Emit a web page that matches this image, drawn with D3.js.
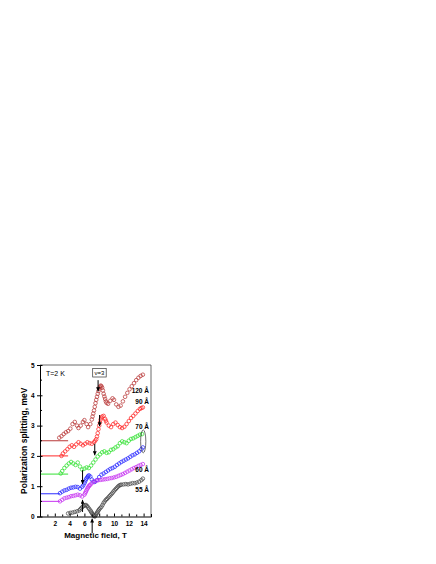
<!DOCTYPE html>
<html>
<head>
<meta charset="utf-8">
<script src="https://cdn.jsdelivr.net/npm/d3@7"></script>
<style>
  body { margin: 0; background: #fff; }
  svg text { font-family: "Liberation Sans", Arial, sans-serif; }
</style>
</head>
<body>
<svg id="chart" width="436" height="564"></svg>
<script>
// data
var field120 = [2.6, 2.9, 3.2, 3.5, 3.8, 4.1, 4.4, 4.7, 5.0, 5.2, 5.5, 5.8, 6.0, 6.3, 6.5, 6.8, 7.0, 7.1, 7.2, 7.3, 7.4, 7.5, 7.6, 7.7, 7.8, 7.9, 8.0, 8.1, 8.2, 8.3, 8.4, 8.5, 8.6, 8.7, 8.8, 8.9, 9.0, 9.2, 9.5, 9.8, 10.0, 10.3, 10.6, 10.9, 11.2, 11.5, 11.8, 12.1, 12.4, 12.7, 13.0, 13.3, 13.6, 13.9];
var split120 = [2.6, 2.65, 2.72, 2.78, 2.82, 2.9, 3.05, 3.12, 3.0, 2.92, 3.0, 3.12, 3.18, 3.05, 2.95, 3.05, 3.2, 3.3, 3.4, 3.5, 3.62, 3.74, 3.85, 3.95, 4.05, 4.14, 4.22, 4.28, 4.32, 4.3, 4.25, 4.16, 4.05, 3.96, 3.88, 3.8, 3.75, 3.72, 3.82, 3.9, 3.85, 3.7, 3.62, 3.66, 3.8, 3.95, 4.08, 4.2, 4.3, 4.4, 4.5, 4.58, 4.64, 4.68];

var field90 = [2.9, 3.1, 3.4, 3.7, 4.0, 4.3, 4.6, 4.9, 5.2, 5.5, 5.8, 6.1, 6.4, 6.7, 7.0, 7.3, 7.45, 7.6, 7.7, 7.8, 7.9, 8.0, 8.1, 8.2, 8.3, 8.4, 8.6, 8.8, 8.9, 9.0, 9.3, 9.6, 9.9, 10.2, 10.5, 10.8, 11.1, 11.4, 11.7, 12.0, 12.3, 12.6, 12.9, 13.2, 13.5, 13.7, 13.9];
var split90 = [2.0, 2.08, 2.15, 2.22, 2.3, 2.35, 2.3, 2.38, 2.45, 2.4, 2.35, 2.4, 2.45, 2.42, 2.4, 2.45, 2.5, 2.55, 2.64, 2.75, 2.88, 3.0, 3.1, 3.2, 3.26, 3.3, 3.32, 3.22, 3.16, 3.1, 3.0, 2.95, 3.05, 3.1, 3.02, 2.95, 2.92, 2.96, 3.05, 3.15, 3.25, 3.32, 3.4, 3.48, 3.55, 3.58, 3.6];

var field70 = [2.8, 3.0, 3.3, 3.6, 3.9, 4.2, 4.5, 4.8, 5.1, 5.4, 5.7, 6.0, 6.3, 6.6, 6.9, 7.2, 7.5, 7.8, 8.1, 8.4, 8.7, 9.0, 9.3, 9.6, 9.9, 10.2, 10.5, 10.8, 11.1, 11.4, 11.7, 12.0, 12.3, 12.6, 12.9, 13.2, 13.5, 13.8];
var split70 = [1.42, 1.5, 1.6, 1.68, 1.75, 1.8, 1.75, 1.7, 1.78, 1.65, 1.55, 1.58, 1.62, 1.6, 1.68, 1.78, 1.88, 1.98, 2.05, 2.12, 2.15, 2.1, 2.12, 2.2, 2.22, 2.28, 2.32, 2.42, 2.48, 2.45, 2.42, 2.5, 2.56, 2.58, 2.62, 2.66, 2.7, 2.72];

var field70b = [2.7, 3.0, 3.3, 3.6, 3.9, 4.2, 4.5, 4.8, 5.1, 5.4, 5.7, 5.85, 6.0, 6.1, 6.2, 6.3, 6.4, 6.5, 6.6, 6.8, 7.0, 7.2, 7.4, 7.7, 8.0, 8.3, 8.6, 8.9, 9.2, 9.5, 9.8, 10.1, 10.4, 10.7, 11.0, 11.3, 11.6, 11.9, 12.2, 12.5, 12.8, 13.1, 13.4, 13.7, 13.9];
var split70b = [0.77, 0.82, 0.86, 0.88, 0.92, 0.95, 0.96, 0.98, 0.97, 0.92, 0.98, 1.03, 1.1, 1.16, 1.22, 1.26, 1.3, 1.33, 1.36, 1.32, 1.22, 1.15, 1.14, 1.2, 1.3, 1.38, 1.42, 1.47, 1.52, 1.57, 1.6, 1.64, 1.7, 1.75, 1.8, 1.84, 1.88, 1.92, 1.97, 2.02, 2.05, 2.1, 2.15, 2.22, 2.28];

var field60 = [2.7, 3.0, 3.3, 3.6, 3.9, 4.2, 4.5, 4.8, 5.1, 5.4, 5.7, 6.0, 6.1, 6.2, 6.3, 6.4, 6.5, 6.6, 6.7, 6.8, 7.0, 7.3, 7.6, 7.9, 8.2, 8.5, 8.8, 9.1, 9.4, 9.7, 10.0, 10.3, 10.6, 10.9, 11.2, 11.5, 11.8, 12.1, 12.4, 12.7, 13.0, 13.3, 13.6, 13.9];
var split60 = [0.5, 0.55, 0.6, 0.62, 0.64, 0.67, 0.68, 0.7, 0.72, 0.7, 0.66, 0.72, 0.77, 0.82, 0.87, 0.92, 0.96, 1.0, 1.03, 1.05, 1.1, 1.15, 1.18, 1.2, 1.21, 1.22, 1.23, 1.24, 1.26, 1.27, 1.29, 1.31, 1.34, 1.37, 1.4, 1.44, 1.48, 1.52, 1.56, 1.6, 1.63, 1.67, 1.7, 1.73];

var field55 = [3.8, 4.1, 4.4, 4.7, 5.0, 5.3, 5.45, 5.6, 5.75, 5.9, 6.05, 6.2, 6.35, 6.5, 6.65, 6.8, 6.9, 7.0, 7.1, 7.2, 7.3, 7.4, 7.5, 7.6, 7.7, 7.8, 7.9, 8.0, 8.15, 8.3, 8.45, 8.6, 8.75, 8.9, 9.05, 9.2, 9.35, 9.5, 9.65, 9.8, 9.95, 10.1, 10.25, 10.4, 10.55, 10.7, 10.85, 11.0, 11.3, 11.6, 11.9, 12.2, 12.5, 12.8, 13.1, 13.4, 13.7, 13.9];
var split55 = [0.1, 0.12, 0.13, 0.15, 0.17, 0.2, 0.24, 0.28, 0.32, 0.35, 0.37, 0.38, 0.35, 0.3, 0.25, 0.2, 0.16, 0.12, 0.08, 0.05, 0.02, 0.0, 0.04, 0.08, 0.12, 0.16, 0.2, 0.24, 0.28, 0.32, 0.38, 0.45, 0.5, 0.55, 0.58, 0.62, 0.66, 0.7, 0.74, 0.78, 0.83, 0.87, 0.91, 0.95, 0.99, 1.02, 1.04, 1.05, 1.06, 1.07, 1.06, 1.08, 1.1, 1.1, 1.12, 1.15, 1.2, 1.25];

// zero-level lines: [level, end field]
var baseLevels = [2.5, 2.0, 1.4, 0.75, 0.5];
var baseEnds = [3.8, 3.8, 3.8, 2.7, 2.7];

// arrows: [field, from, to]
var arrows = [
  [7.85, 4.5, 4.13],
  [8.05, 3.35, 2.98],
  [7.4, 2.4, 2.02],
  [5.75, 1.53, 1.07],
  [5.75, 0.15, 0.55],
  [7.05, -0.55, -0.07]
];

var curveLabels = ["120 Å", "90 Å", "70 Å", "60 Å", "55 Å"];
var labelLevels = [4.06, 3.7, 2.88, 1.48, 0.82];

var xTicks = [2, 4, 6, 8, 10, 12, 14];
var yTicks = [0, 1, 2, 3, 4, 5];

var series = [
  { field: field120, split: split120, color: "#b83838" },
  { field: field90, split: split90, color: "#ff2a2a" },
  { field: field70, split: split70, color: "#33e033" },
  { field: field70b, split: split70b, color: "#2a2aff" },
  { field: field60, split: split60, color: "#c633f0" },
  { field: field55, split: split55, color: "#4a4a4a" }
];

var svg = d3.select("#chart");
svg.append("rect").attr("width", 436).attr("height", 564).attr("fill", "#fff");

var x = d3.scaleLinear().domain([0, 15]).range([40, 151]);
var y = d3.scaleLinear().domain([0, 5]).range([516.5, 365]);

// arrow head
svg.append("defs").append("marker")
  .attr("id", "head")
  .attr("viewBox", "0 0 10 10")
  .attr("refX", 10).attr("refY", 5)
  .attr("markerWidth", 4).attr("markerHeight", 4)
  .attr("markerUnits", "userSpaceOnUse")
  .attr("orient", "auto")
  .append("path").attr("d", "M0,0L10,5L0,10Z").attr("fill", "#000");

// zero levels
svg.selectAll("line.base")
  .data(baseLevels)
  .enter().append("line")
  .attr("x1", x(0))
  .attr("x2", function (d, i) { return x(baseEnds[i]); })
  .attr("y1", function (d) { return y(d); })
  .attr("y2", function (d) { return y(d); })
  .attr("stroke", function (d, i) { return series[i].color; })
  .attr("stroke-width", 1);

// curves as open circles
series.forEach(function (s) {
  svg.append("g")
    .selectAll("circle")
    .data(s.field)
    .enter().append("circle")
    .attr("cx", function (d) { return x(d); })
    .attr("cy", function (d, i) { return y(s.split[i]); })
    .attr("r", 1.8)
    .attr("fill", "none")
    .attr("stroke", s.color)
    .attr("stroke-width", 0.75);
});

// ellipse around the 70 A pair
svg.append("ellipse")
  .attr("cx", x(13.95)).attr("cy", y(2.48))
  .attr("rx", 2.6).attr("ry", y(2.1) - y(2.48))
  .attr("fill", "none").attr("stroke", "#333").attr("stroke-width", 0.7);

// arrows
svg.selectAll("line.arrow")
  .data(arrows)
  .enter().append("line")
  .attr("x1", function (d) { return x(d[0]); })
  .attr("x2", function (d) { return x(d[0]); })
  .attr("y1", function (d) { return y(d[1]); })
  .attr("y2", function (d) { return y(d[2]); })
  .attr("stroke", "#000")
  .attr("stroke-width", 1)
  .attr("marker-end", "url(#head)");

// frame
svg.append("path")
  .attr("d", "M" + x(0) + "," + y(5) + "H" + x(15) + "V" + y(0))
  .attr("fill", "none").attr("stroke", "#444").attr("stroke-width", 0.8);

// axes
var xAxis = svg.append("g")
  .attr("transform", "translate(0," + y(0) + ")")
  .call(d3.axisBottom(x).tickValues(d3.range(1, 15)).tickSize(-2.5).tickPadding(5)
    .tickFormat(function (d) { return xTicks.indexOf(d) >= 0 ? d : ""; }));
xAxis.selectAll(".tick line")
  .attr("y2", function (d) { return d % 2 === 0 ? -3 : -2; });

var yAxis = svg.append("g")
  .attr("transform", "translate(" + x(0) + ",0)")
  .call(d3.axisLeft(y).tickValues(yTicks).tickSize(3).tickPadding(2.5).tickFormat(d3.format("d")));
yAxis.selectAll(".tick").append("line")
  .attr("x2", 2.5).attr("stroke", "#000");
svg.append("g")
  .attr("transform", "translate(" + x(0) + ",0)")
  .selectAll("line")
  .data([0.5, 1.5, 2.5, 3.5, 4.5])
  .enter().append("line")
  .attr("x2", 2).attr("y1", function (d) { return y(d); }).attr("y2", function (d) { return y(d); })
  .attr("stroke", "#000");

svg.selectAll(".domain").attr("stroke", "#000");
svg.selectAll(".tick text")
  .attr("font-family", "Liberation Sans, Arial, sans-serif")
  .attr("font-size", 6.5)
  .attr("font-weight", "bold")
  .attr("fill", "#000");

// texts
svg.selectAll("text.clab")
  .data(curveLabels)
  .enter().append("text")
  .attr("x", 149)
  .attr("y", function (d, i) { return y(labelLevels[i]); })
  .attr("text-anchor", "end")
  .attr("font-size", 6.5)
  .attr("font-weight", "bold")
  .text(function (d) { return d; });

svg.append("text")
  .attr("x", 46).attr("y", 375.5)
  .attr("font-size", 7)
  .text("T=2 K");

svg.append("rect")
  .attr("x", 92.7).attr("y", 368.5).attr("width", 13.5).attr("height", 8.5)
  .attr("fill", "#fff").attr("stroke", "#333").attr("stroke-width", 0.7);
svg.append("text")
  .attr("x", 99.4).attr("y", 375.2)
  .attr("text-anchor", "middle")
  .attr("font-size", 6)
  .text("ν=3");

svg.append("text")
  .attr("transform", "translate(27," + ((y(0) + y(5)) / 2) + ") rotate(-90)")
  .attr("text-anchor", "middle")
  .attr("font-size", 8.5)
  .attr("font-weight", "bold")
  .text("Polarization splitting, meV");

svg.append("text")
  .attr("x", (x(0) + x(15)) / 2).attr("y", 538)
  .attr("text-anchor", "middle")
  .attr("font-size", 8)
  .attr("font-weight", "bold")
  .text("Magnetic field, T");
</script>
</body>
</html>
